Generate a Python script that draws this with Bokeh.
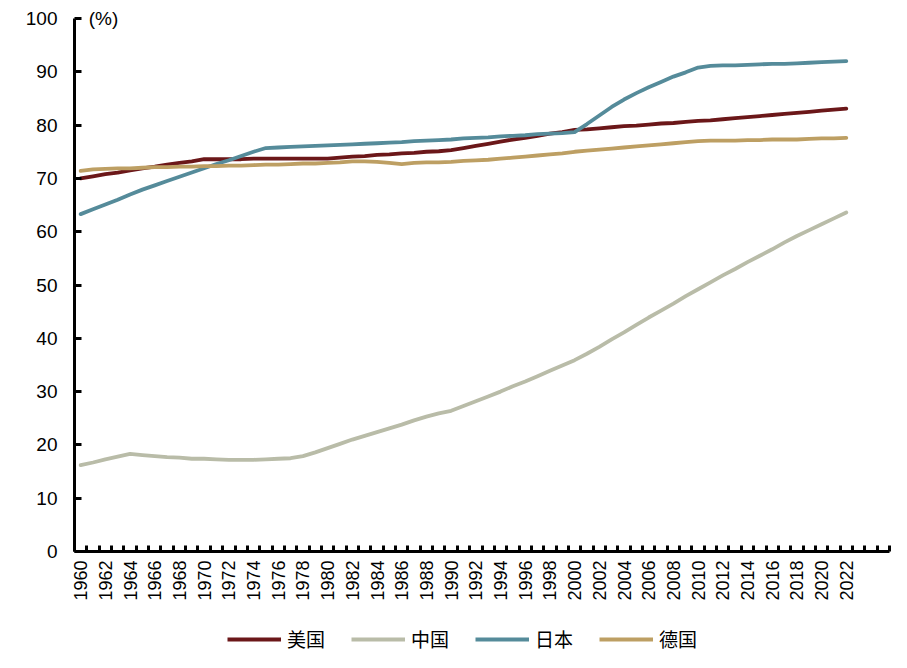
import math
from bokeh.plotting import figure
from bokeh.layouts import column
from bokeh.models import (Range1d, FixedTicker, NumeralTickFormatter, Legend, LegendItem, Label)
from bokeh.embed import file_html
from bokeh.resources import INLINE

years = list(range(1960, 2023))

us = [70.0, 70.4, 70.8, 71.1, 71.5, 71.9, 72.2, 72.6, 72.9, 73.2,
      73.6, 73.6, 73.6, 73.6, 73.7, 73.7, 73.7, 73.7, 73.7, 73.7,
      73.7, 73.9, 74.1, 74.2, 74.4, 74.5, 74.7, 74.8, 75.0, 75.1,
      75.3, 75.7, 76.1, 76.5, 76.9, 77.3, 77.6, 78.0, 78.4, 78.7,
      79.1, 79.2, 79.4, 79.6, 79.8, 79.9, 80.1, 80.3, 80.4, 80.6,
      80.8, 80.9, 81.1, 81.3, 81.5, 81.7, 81.9, 82.1, 82.3, 82.5,
      82.7, 82.9, 83.1]

china = [16.2, 16.7, 17.3, 17.8, 18.3, 18.1, 17.9, 17.7, 17.6, 17.4,
         17.4, 17.3, 17.2, 17.2, 17.2, 17.3, 17.4, 17.5, 17.9, 18.6,
         19.4, 20.2, 21.0, 21.7, 22.4, 23.1, 23.8, 24.6, 25.3, 25.9,
         26.4, 27.3, 28.2, 29.1, 30.0, 31.0, 31.9, 32.9, 33.9, 34.9,
         35.9, 37.1, 38.4, 39.8, 41.1, 42.5, 43.9, 45.2, 46.5, 47.9,
         49.2, 50.5, 51.8, 53.0, 54.3, 55.5, 56.7, 58.0, 59.2, 60.3,
         61.4, 62.5, 63.6]

japan = [63.3, 64.2, 65.1, 66.0, 67.0, 67.9, 68.7, 69.5, 70.3, 71.1,
         71.9, 72.7, 73.4, 74.2, 75.0, 75.7, 75.8, 75.9, 76.0, 76.1,
         76.2, 76.3, 76.4, 76.5, 76.6, 76.7, 76.8, 77.0, 77.1, 77.2,
         77.3, 77.5, 77.6, 77.7, 77.9, 78.0, 78.1, 78.3, 78.4, 78.5,
         78.7, 80.2, 81.8, 83.4, 84.8, 86.0, 87.1, 88.1, 89.1, 89.9,
         90.8, 91.1, 91.2, 91.2, 91.3, 91.4, 91.5, 91.5, 91.6, 91.7,
         91.8, 91.9, 92.0]

germany = [71.4, 71.7, 71.8, 71.9, 71.9, 72.0, 72.1, 72.1, 72.2, 72.2,
           72.3, 72.3, 72.4, 72.4, 72.5, 72.6, 72.6, 72.7, 72.8, 72.8,
           72.9, 73.0, 73.2, 73.2, 73.1, 72.9, 72.7, 72.9, 73.0, 73.0,
           73.1, 73.3, 73.4, 73.5, 73.7, 73.9, 74.1, 74.3, 74.5, 74.7,
           75.0, 75.2, 75.4, 75.6, 75.8, 76.0, 76.2, 76.4, 76.6, 76.8,
           77.0, 77.1, 77.1, 77.1, 77.2, 77.2, 77.3, 77.3, 77.3, 77.4,
           77.5, 77.5, 77.6]

series_names = ["美国", "中国", "日本", "德国"]
series_values = [us, china, japan, germany]
series_colors = ["#6B1719", "#B9BCA8", "#558B9A", "#BD9F63"]

y_ticks = list(range(0, 101, 10))
x_label_years = list(range(1960, 2023, 2))

LINE_W = 3.8

p = figure(width=891, height=610, output_backend="svg", toolbar_location=None,
           x_range=Range1d(1959.5, 2025.5), y_range=Range1d(0, 101.88),
           min_border_left=74, min_border_right=2, min_border_top=8,
           min_border_bottom=59)
p.outline_line_color = None
p.xgrid.visible = False
p.ygrid.visible = False
p.background_fill_color = "white"

for name, vals, col in zip(series_names, series_values, series_colors):
    p.line(years, vals, line_color=col, line_width=LINE_W, line_join="round", line_cap="round")

# y axis
ya = p.yaxis[0]
ya.bounds = (0, 100)
ya.ticker = FixedTicker(ticks=y_ticks, minor_ticks=[])
ya.axis_line_width = 3
ya.axis_line_color = "black"
ya.major_tick_in = 7
ya.major_tick_out = 0
ya.major_tick_line_width = 3
ya.major_tick_line_color = "black"
ya.minor_tick_line_color = None
ya.major_label_standoff = 17
ya.major_label_text_font = "Liberation Sans"
ya.major_label_text_font_size = "19px"
ya.major_label_text_color = "black"

# x axis
xa = p.xaxis[0]
xa.ticker = FixedTicker(ticks=x_label_years, minor_ticks=[y + 0.5 for y in range(1959, 2026)])
xa.formatter = NumeralTickFormatter(format="0")
xa.axis_line_width = 3
xa.axis_line_color = "black"
xa.major_tick_in = 0
xa.major_tick_out = 0
xa.minor_tick_in = 6
xa.minor_tick_out = 0
xa.minor_tick_line_width = 3
xa.minor_tick_line_color = "black"
xa.major_label_orientation = math.pi / 2
xa.major_label_standoff = 9
xa.major_label_text_font = "Liberation Sans"
xa.major_label_text_font_size = "18px"
xa.major_label_text_color = "black"

unit = Label(x=1960.65, y=100, text="(%)", text_baseline="middle", text_align="left",
             text_font="Liberation Sans", text_font_size="19px", text_color="black")
p.add_layout(unit)

# legend strip below the chart (series redrawn out of view, only for the legend swatches)
p2 = figure(width=891, height=42, output_backend="svg", toolbar_location=None,
            x_axis_type=None, y_axis_type=None, min_border=0,
            x_range=Range1d(0, 1), y_range=Range1d(0, 1))
p2.outline_line_color = None
p2.xgrid.visible = False
p2.ygrid.visible = False
legend_renderers = []
for vals, col in zip(series_values, series_colors):
    legend_renderers.append(p2.line(years, vals, line_color=col, line_width=LINE_W))

legend = Legend(items=[LegendItem(label=n, renderers=[r]) for n, r in zip(series_names, legend_renderers)],
                orientation="horizontal", location=(153, 0), padding=0, spacing=26,
                glyph_width=54, glyph_height=20, label_height=20, label_standoff=6, margin=0,
                border_line_color=None, background_fill_alpha=0,
                label_text_font="Noto Sans CJK SC", label_text_font_size="19px",
                label_text_color="black")
p2.add_layout(legend)

layout = column(p, p2, spacing=0)
open("out.html", "w").write(file_html(layout, INLINE))
